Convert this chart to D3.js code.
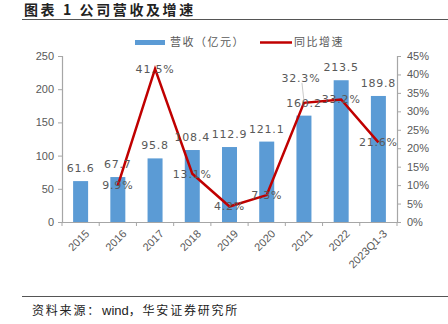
<!DOCTYPE html>
<html><head><meta charset="utf-8">
<script src="https://cdn.jsdelivr.net/npm/d3@7"></script>
<style>body{margin:0;background:#fff}</style>
</head><body>
<svg id="c" width="448" height="324"></svg>
<script>
const categories = ["2015","2016","2017","2018","2019","2020","2021","2022","2023Q1-3"];
const revenue = [61.6, 67.7, 95.8, 108.4, 112.9, 121.1, 160.2, 213.5, 189.8];
const growth = [null, 9.9, 41.5, 13.1, 4.2, 7.3, 32.3, 33.2, 21.6];
const leftTicks = [0, 50, 100, 150, 200, 250];
const rightTicks = [0, 5, 10, 15, 20, 25, 30, 35, 40, 45];
const seriesNames = ["营收（亿元）", "同比增速"];
const titleText = "图表 1 公司营收及增速";
const sourceParts = ["资料来源：", "wind", "，华安证券研究所"];

const svg = d3.select("#c");
const cjk = "'Noto Sans CJK SC', sans-serif";
const sans = "'Liberation Sans', Arial, sans-serif";
const grey = "#595959", axisC = "#a6a6a6";
const blue = "#5b9bd5", red = "#c00000";

const xb = d3.scaleBand().domain(categories).range([62, 397]);
const yL = d3.scaleLinear().domain([0, 250]).range([222, 56]);
const yR = d3.scaleLinear().domain([0, 45]).range([222, 56]);

// title
svg.append("text").attr("x", 24).attr("y", 15).attr("font-family", cjk).attr("font-weight", "bold")
  .attr("font-size", 14).attr("letter-spacing", 2.6).attr("fill", "#222").text(titleText);
svg.append("line").attr("x1", 22).attr("x2", 448).attr("y1", 19.5).attr("y2", 19.5).attr("stroke", "#555").attr("stroke-width", 1.2);

// legend
svg.append("rect").attr("x", 135).attr("y", 40).attr("width", 30).attr("height", 5).attr("fill", blue);
svg.append("text").attr("x", 170).attr("y", 46).attr("font-family", cjk).attr("font-size", 11).attr("letter-spacing", 1.5).attr("fill", grey).text(seriesNames[0]);
svg.append("line").attr("x1", 260).attr("x2", 292).attr("y1", 42.5).attr("y2", 42.5).attr("stroke", red).attr("stroke-width", 2.5);
svg.append("text").attr("x", 294).attr("y", 46).attr("font-family", cjk).attr("font-size", 11).attr("letter-spacing", 1.5).attr("fill", grey).text(seriesNames[1]);

// bars
svg.append("g").selectAll("rect").data(revenue).join("rect")
  .attr("x", (d, i) => xb(categories[i]) + xb.bandwidth() / 2 - 7.5)
  .attr("width", 15)
  .attr("y", d => yL(d)).attr("height", d => yL(0) - yL(d))
  .attr("fill", blue);

// axes
const axL = svg.append("g").attr("transform", "translate(62,0)")
  .call(d3.axisLeft(yL).tickValues(leftTicks).tickSize(4).tickPadding(4));
const axR = svg.append("g").attr("transform", "translate(397,0)")
  .call(d3.axisRight(yR).tickValues(rightTicks).tickSize(4).tickPadding(6).tickFormat(d => d + "%"));
const axB = svg.append("g").attr("transform", "translate(0,222)")
  .call(d3.axisBottom(xb).tickSize(0).tickFormat(""));
axB.selectAll(".bt").data(d3.range(categories.length + 1)).join("line")
  .attr("x1", i => 62 + i * xb.step()).attr("x2", i => 62 + i * xb.step())
  .attr("y1", 0).attr("y2", 4).attr("stroke", axisC);
[axL, axR, axB].forEach(a => {
  a.selectAll("path.domain").attr("stroke", axisC).attr("stroke-width", 1.2);
  a.selectAll(".tick line").attr("stroke", axisC);
  a.selectAll("text").attr("font-family", sans).attr("font-size", 11).attr("fill", grey);
});
svg.append("g").selectAll("text").data(categories).join("text")
  .attr("transform", d => `translate(${xb(d) + xb.bandwidth() / 2 + 4},229) rotate(-45)`)
  .attr("text-anchor", "end").attr("dy", "0.7em")
  .attr("font-family", sans).attr("font-size", 11).attr("fill", grey).text(d => d);

// line
const pts = growth.map((g, i) => [g, i]).filter(p => p[0] !== null);
const line = d3.line().x(p => xb(categories[p[1]]) + xb.bandwidth() / 2).y(p => yR(p[0]));
svg.append("path").attr("d", line(pts)).attr("fill", "none").attr("stroke", red).attr("stroke-width", 2.5);

// bar labels
const lblFont = "'DejaVu Sans', sans-serif";
svg.append("g").selectAll("text").data(revenue).join("text")
  .attr("x", (d, i) => xb(categories[i]) + xb.bandwidth() / 2)
  .attr("y", d => yL(d) - 9)
  .attr("text-anchor", "middle").attr("font-family", lblFont).attr("font-size", 11).attr("letter-spacing", 0.8)
  .attr("fill", grey).text(d => d.toFixed(1));

// growth labels
const gl = svg.append("g");
pts.forEach(p => {
  const cx = xb(categories[p[1]]) + xb.bandwidth() / 2;
  let cy = yR(p[0]);
  let dx = 0;
  if (p[1] === 6) { cy -= 25; dx = -3;
    gl.append("line").attr("x1", cx - 2).attr("y1", cy + 5).attr("x2", cx).attr("y2", yR(p[0]) - 2).attr("stroke", "#bbb").attr("stroke-width", 0.8);
  }
  gl.append("text").attr("x", cx + dx).attr("y", cy).attr("dy", "0.35em")
    .attr("text-anchor", "middle").attr("font-family", lblFont).attr("font-size", 11).attr("letter-spacing", 0.8)
    .attr("fill", grey).text(p[0].toFixed(1) + "%");
});

// footer
svg.append("line").attr("x1", 22).attr("x2", 448).attr("y1", 296.5).attr("y2", 296.5).attr("stroke", "#555").attr("stroke-width", 1.2);
const ft = svg.append("text").attr("x", 32).attr("y", 315).attr("font-family", cjk).attr("font-size", 12).attr("fill", "#222");
ft.append("tspan").attr("letter-spacing", 1.8).text(sourceParts[0]);
ft.append("tspan").attr("font-family", sans).attr("font-size", 13).attr("dx", 1).text(sourceParts[1]);
ft.append("tspan").attr("letter-spacing", 1.8).text(sourceParts[2]);
</script>
</body></html>
